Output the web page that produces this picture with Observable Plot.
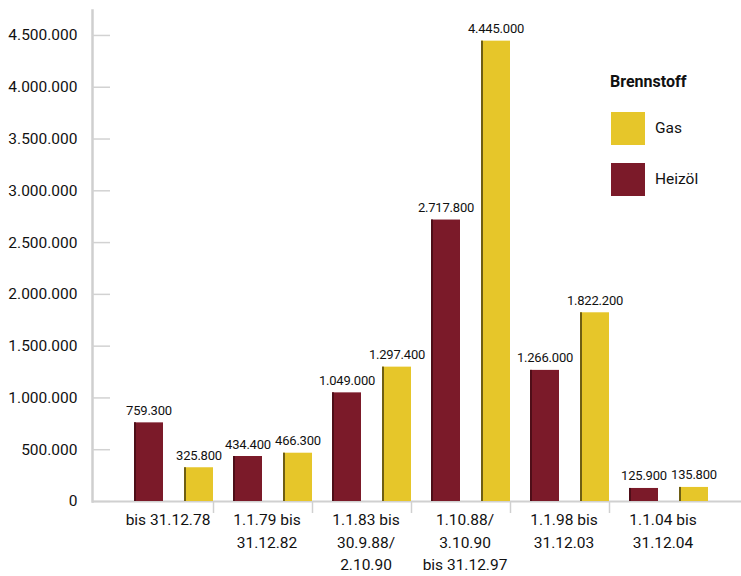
<!DOCTYPE html>
<html>
<head>
<meta charset="utf-8">
<script src="https://cdn.jsdelivr.net/npm/d3@7"></script>
<script src="https://cdn.jsdelivr.net/npm/@observablehq/plot@0.6"></script>
<style>
  body { margin: 0; background: #fff; }
  #wrap { position: relative; width: 741px; height: 576px; font-family: Roboto, sans-serif; color: #111; }
  #legend { position: absolute; left: 0; top: 0; }
  .lg-title { position: absolute; left: 610px; top: 72px; font-weight: bold; font-size: 16px; white-space: nowrap; }
  .lg-sw { position: absolute; left: 611px; width: 34px; height: 33px; }
  .lg-lab { position: absolute; left: 655px; font-size: 15.5px; white-space: nowrap; }
  g[aria-label="text"] text { letter-spacing: -0.2px; }
</style>
</head>
<body>
<div id="wrap"></div>
<script>
const groups = [
  "bis 31.12.78",
  "1.1.79 bis\n31.12.82",
  "1.1.83 bis\n30.9.88/\n2.10.90",
  "1.10.88/\n3.10.90\nbis 31.12.97",
  "1.1.98 bis\n31.12.03",
  "1.1.04 bis\n31.12.04"
];
const heizoel = [759300, 434400, 1049000, 2717800, 1266000, 125900];
const gas = [325800, 466300, 1297400, 4445000, 1822200, 135800];
const yTicks = [0, 500000, 1000000, 1500000, 2000000, 2500000, 3000000, 3500000, 4000000, 4500000];
const fuels = ["Gas", "Heizöl"];
const fuelColors = ["#e6c62a", "#7b1a29"];
const legendTitle = "Brennstoff";

const fmt = d3.formatLocale({decimal: ",", thousands: ".", grouping: [3], currency: ["", " €"]}).format(",d");

const heizRows = groups.map((g, i) => ({group: g, fuel: "Heizöl", value: heizoel[i]}));
const gasRows = groups.map((g, i) => ({group: g, fuel: "Gas", value: gas[i]}));

const chart = Plot.plot({
  width: 741,
  height: 576,
  marginLeft: 92,
  marginRight: 0,
  marginTop: 10,
  marginBottom: 75,
  style: {fontFamily: "Roboto, sans-serif", fontSize: "15.5px", color: "#111", background: "#fff"},
  x: {domain: groups, range: [114, 708], padding: 0},
  y: {domain: [0, 4741000]},
  marks: [
    Plot.frame({anchor: "left", stroke: "#cfcfcf", strokeWidth: 2.5}),
    Plot.axisY({ticks: yTicks, tickSize: -18, tickFormat: () => "", stroke: "#d2d2d2", strokeWidth: 1.5, label: null}),
    Plot.axisY({ticks: yTicks, tickSize: 0, tickPadding: 15, tickFormat: fmt, label: null, fill: "#111"}),
    Plot.ruleY([0], {stroke: "#d0d0d0", strokeWidth: 2}),
    Plot.axisX({ticks: groups.slice(0, 5), tickSize: 12, dx: 49.5, tickFormat: () => "", stroke: "#d0d0d0", strokeWidth: 1.5, label: null}),
    Plot.axisX({tickSize: 0, tickPadding: 8, dx: 4, lineHeight: 1.45, label: null, fill: "#111"}),
    Plot.barY(heizRows, {x: "group", y: "value", fill: fuelColors[1], insetLeft: 20, insetRight: 50}),
    Plot.barY(heizRows, {x: "group", y: "value", fill: "#4e0e18", insetLeft: 20, insetRight: 77}),
    Plot.barY(gasRows, {x: "group", y: "value", fill: fuelColors[0], insetLeft: 70, insetRight: 0}),
    Plot.barY(gasRows, {x: "group", y: "value", fill: "#6e5e14", insetLeft: 70, insetRight: 27}),
    Plot.text(heizRows, {x: "group", y: "value", text: d => fmt(d.value), dx: -15, dy: -8, lineAnchor: "bottom", fontSize: 13, fill: "#111"}),
    Plot.text(gasRows, {x: "group", y: "value", text: d => fmt(d.value), dx: 35, dy: -8, lineAnchor: "bottom", fontSize: 13, fill: "#111"})
  ]
});

const wrap = document.getElementById("wrap");
wrap.appendChild(chart);

const legend = document.createElement("div");
legend.id = "legend";
let html = `<div class="lg-title">${legendTitle}</div>`;
const tops = [112, 163];
fuels.forEach((f, i) => {
  html += `<div class="lg-sw" style="top:${tops[i]}px;background:${fuelColors[i]}"></div>`;
  html += `<div class="lg-lab" style="top:${tops[i] + 7}px">${f}</div>`;
});
legend.innerHTML = html;
wrap.appendChild(legend);
</script>
</body>
</html>
